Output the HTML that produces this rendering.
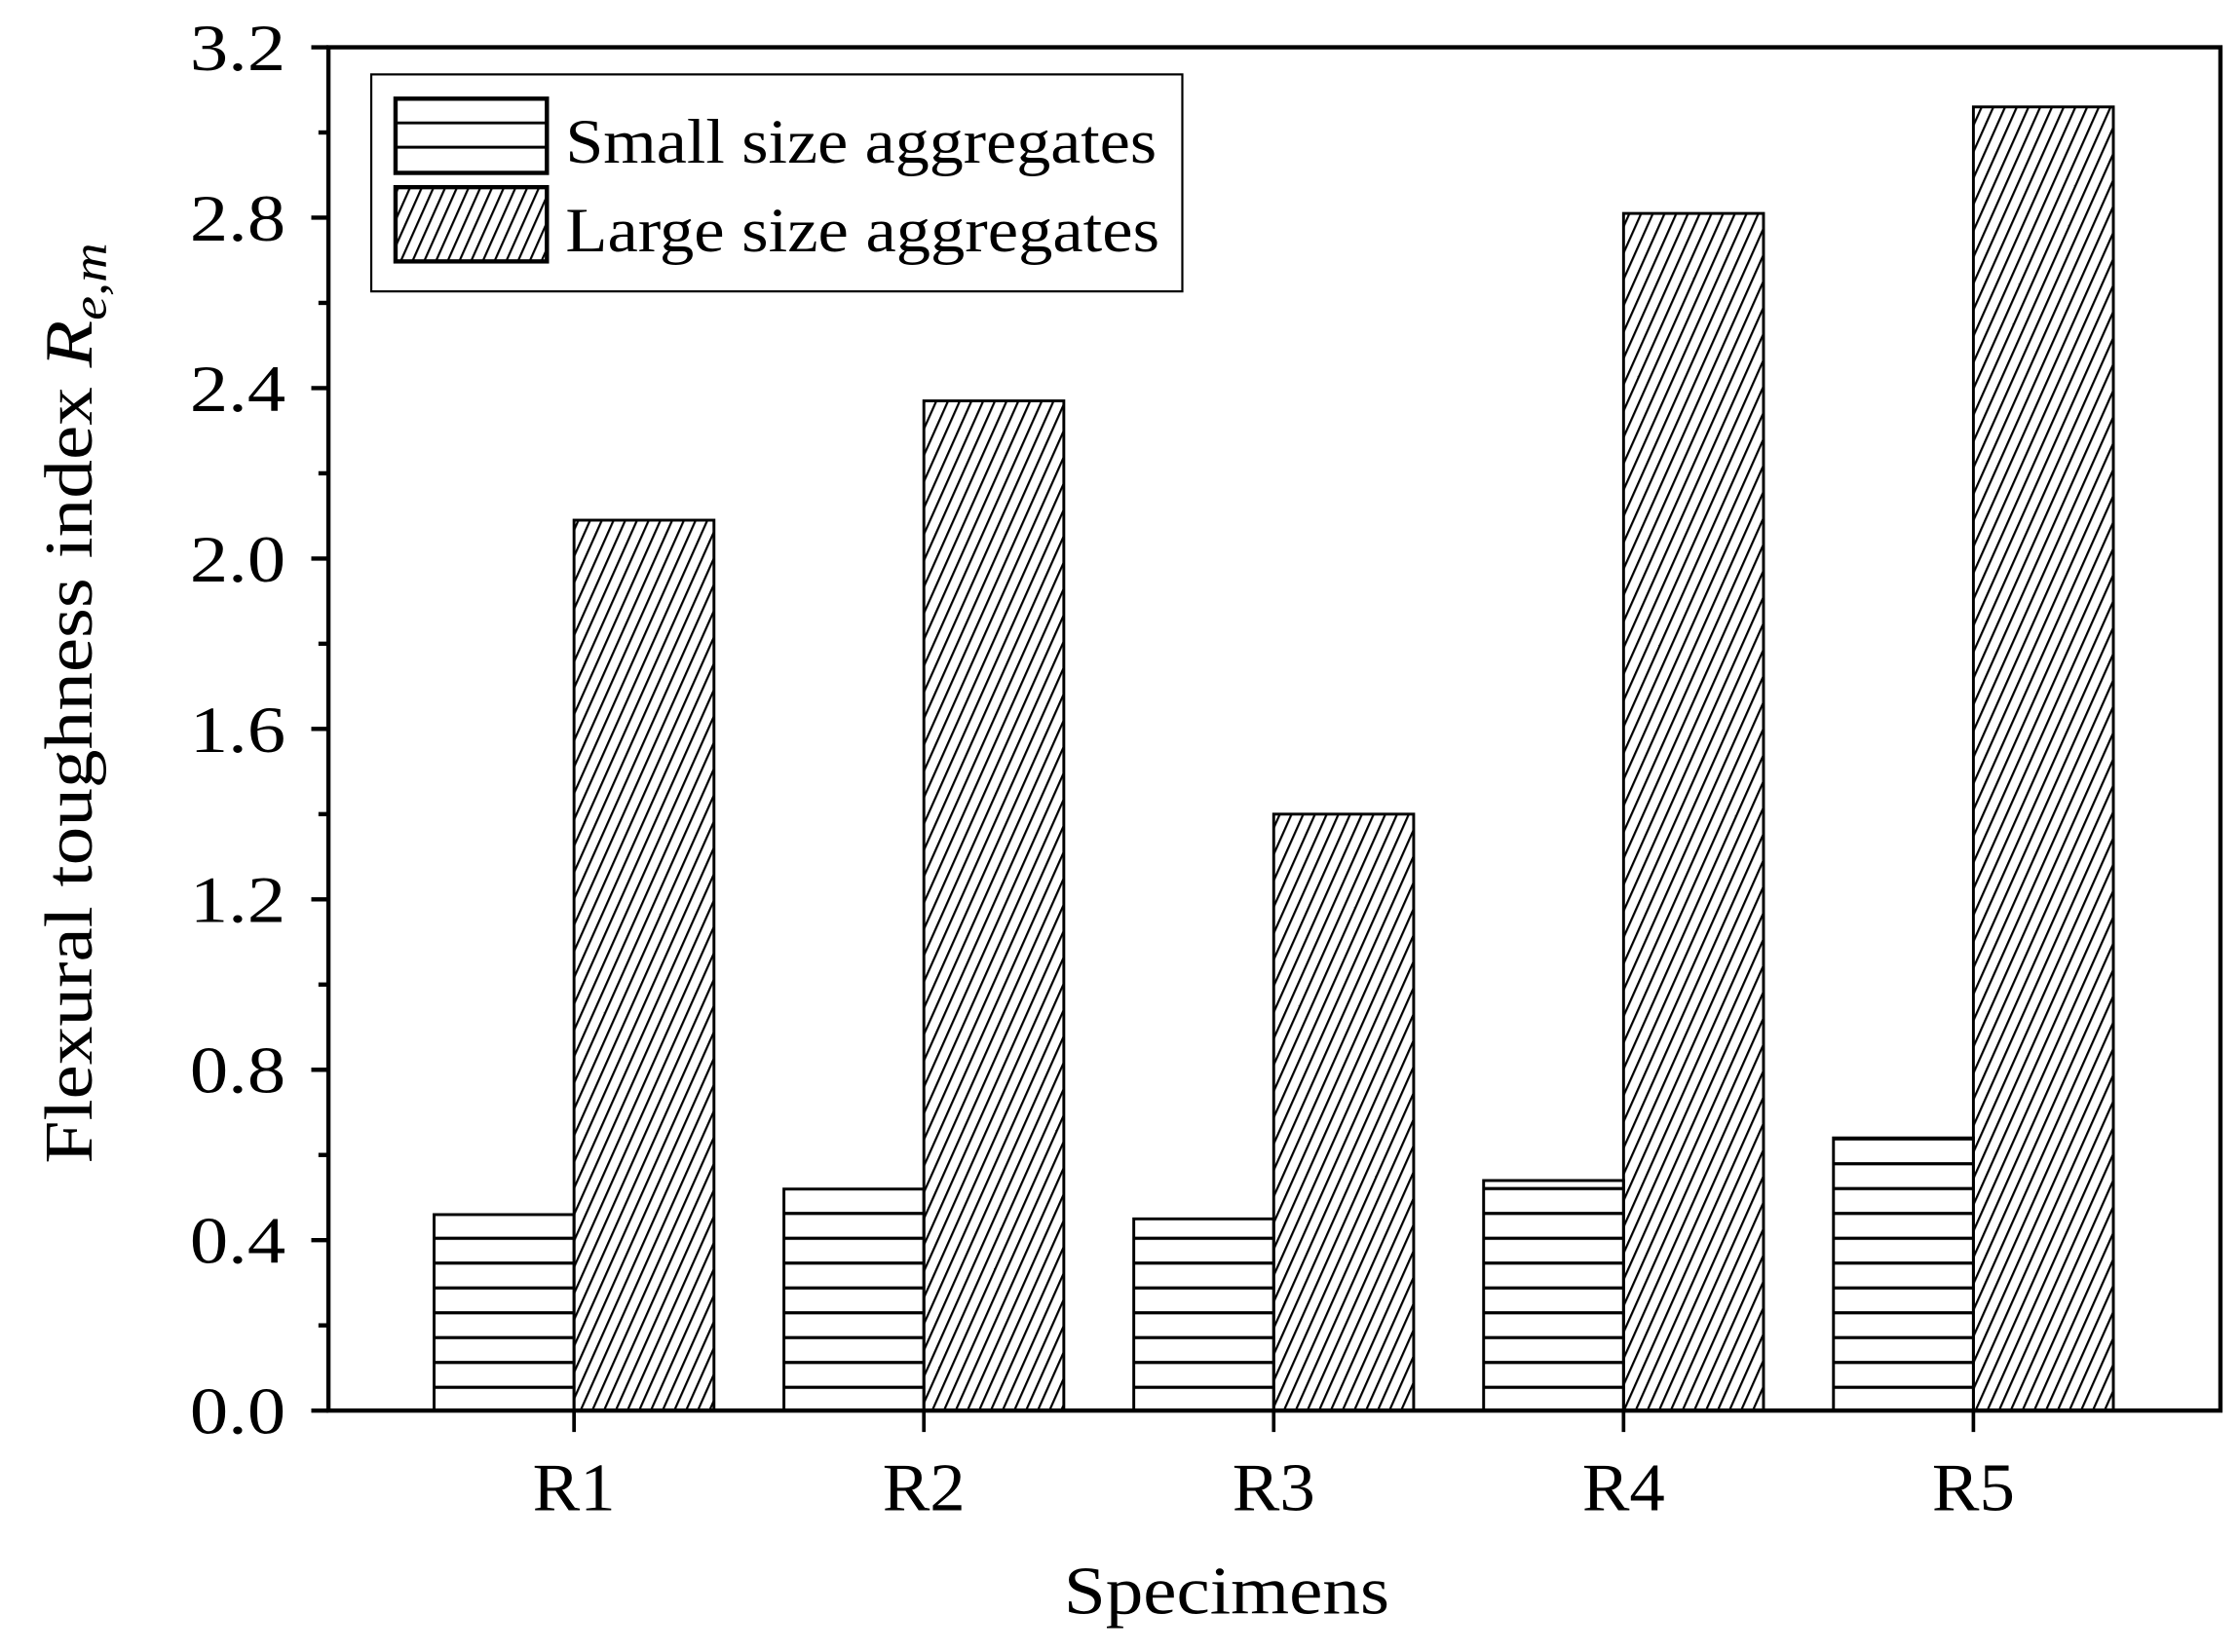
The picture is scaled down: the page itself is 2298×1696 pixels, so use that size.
<!DOCTYPE html>
<html><head><meta charset="utf-8"><style>
html,body{margin:0;padding:0;background:#fff;}
svg{display:block;font-family:"Liberation Serif",serif;}
</style></head><body>
<svg id="chart" width="2298" height="1696" viewBox="0 0 1568 1157" xmlns="http://www.w3.org/2000/svg">
<defs>
<pattern id="hl" patternUnits="userSpaceOnUse" width="10" height="17.4" y="988">
<rect x="0" y="0" width="10" height="2.2" fill="#000"/>
</pattern>
<pattern id="dg" patternUnits="userSpaceOnUse" width="7.5" height="20" patternTransform="rotate(24)">
<rect x="0" y="0" width="1.5" height="20" fill="#000"/>
</pattern>
</defs>
<g id="marks"></g>
<g id="axes"></g>
<g>
<rect x="260" y="52" width="568" height="152" fill="#fff" stroke="#000" stroke-width="1.5"/>
<rect x="277" y="69" width="106" height="52" fill="#fff" stroke="#000" stroke-width="3"/>
<line x1="277" y1="86" x2="383" y2="86" stroke="#000" stroke-width="2"/>
<line x1="277" y1="103" x2="383" y2="103" stroke="#000" stroke-width="2"/>
<rect x="277" y="131" width="106" height="52" fill="url(#dg)" stroke="#000" stroke-width="3"/>
<text x="396" y="114" font-size="44" textLength="414" lengthAdjust="spacingAndGlyphs">Small size aggregates</text>
<text x="396" y="176" font-size="44" textLength="416" lengthAdjust="spacingAndGlyphs">Large size aggregates</text>
</g>
<text x="745" y="1130" font-size="48" textLength="228" lengthAdjust="spacingAndGlyphs">Specimens</text>
<text transform="translate(64,815) rotate(-90)" font-size="48" textLength="645" lengthAdjust="spacingAndGlyphs">Flexural toughness index <tspan font-style="italic">R</tspan><tspan font-style="italic" font-size="34" dy="10">e,m</tspan></text>
</svg>
<script>
const categories=["R1","R2","R3","R4","R5"];
const smallValues=[0.46,0.52,0.45,0.54,0.64];
const largeValues=[2.09,2.37,1.40,2.81,3.06];
const yTicks=["0.0","0.4","0.8","1.2","1.6","2.0","2.4","2.8","3.2"];
const L=230,R=1555,T=33,B=988,yMax=3.2;
const NS="http://www.w3.org/2000/svg";
function y(v){return B-(v/yMax)*(B-T);}
function xc(i){return 402+i*245;}
const bw=98;
const marks=document.getElementById('marks'),axes=document.getElementById('axes');
function mk(tag,attrs,parent){const e=document.createElementNS(NS,tag);for(const k in attrs)e.setAttribute(k,attrs[k]);parent.appendChild(e);return e;}
categories.forEach((c,i)=>{
 const s=mk('rect',{x:xc(i)-bw,y:y(smallValues[i]),width:bw,height:B-y(smallValues[i]),fill:'url(#hl)',stroke:'#000','stroke-width':2},marks);
 
 
 const l=mk('rect',{x:xc(i),y:y(largeValues[i]),width:bw,height:B-y(largeValues[i]),fill:'url(#dg)',stroke:'#000','stroke-width':2},marks);
 
 
 mk('line',{x1:xc(i),y1:B,x2:xc(i),y2:B+15,stroke:'#000','stroke-width':2.5},axes);
 const t=mk('text',{x:xc(i)-29,y:1058,'font-size':48,textLength:58,lengthAdjust:'spacingAndGlyphs'},axes);
 t.textContent=c;
 
 
});
yTicks.forEach((lab,i)=>{
 const v=parseFloat(lab),yy=y(v);
 mk('line',{x1:L-12,y1:yy,x2:L,y2:yy,stroke:'#000','stroke-width':3},axes);
 if(i<yTicks.length-1){const ym=y(v+0.2);mk('line',{x1:L-7,y1:ym,x2:L,y2:ym,stroke:'#000','stroke-width':3},axes);}
 const t=mk('text',{x:133,y:yy+16,'font-size':46,textLength:67,lengthAdjust:'spacingAndGlyphs'},axes);
 t.textContent=lab;
 
 
});
const f=mk('rect',{x:L,y:T,width:R-L,height:B-T,fill:'none',stroke:'#000','stroke-width':3},axes);


</script>
</body></html>
